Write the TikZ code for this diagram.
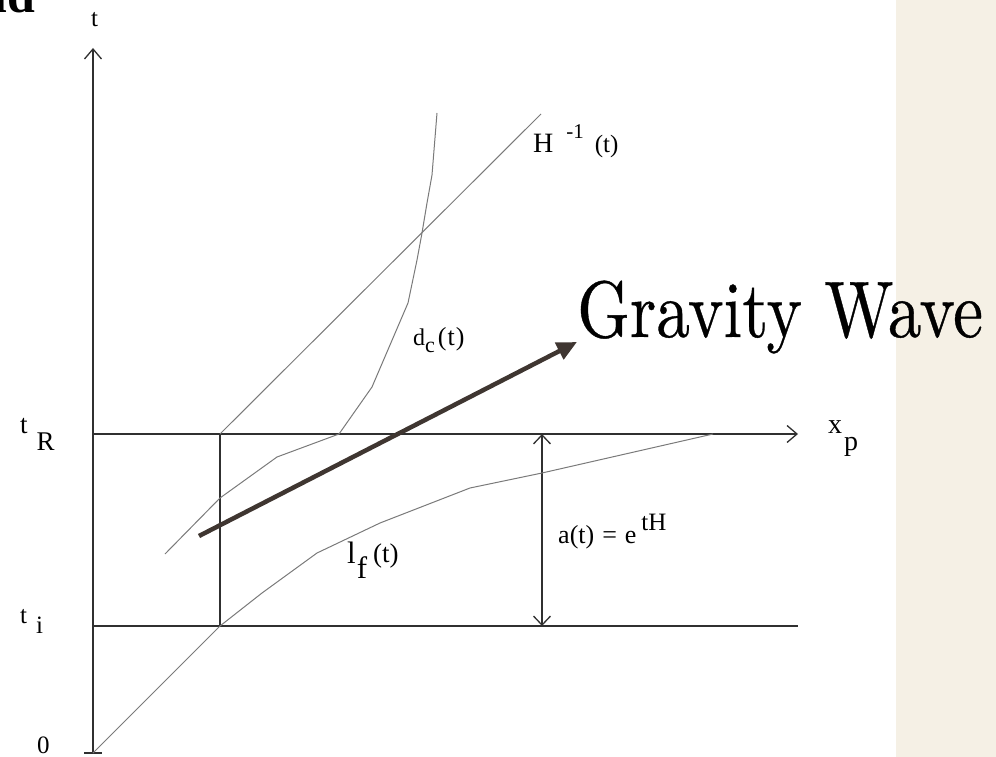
\documentclass[tikz,border=0pt]{standalone}
\usepackage{fontspec}
\usepackage{graphicx}
\usetikzlibrary{arrows.meta}
\newfontfamily\plotfont{Liberation Serif}
\newfontfamily\waveface{lmroman10-regular.otf}[FakeBold=0.5]
\newcommand{\lblsize}[1]{\fontsize{#1pt}{#1pt}\selectfont}
\definecolor{panelbeige}{HTML}{F5F0E5}
\definecolor{wavebrown}{HTML}{3F3631}
\definecolor{axisgray}{HTML}{303030}
\definecolor{curvegray}{HTML}{7A7A7A}
\begin{document}
\begin{tikzpicture}[x=1pt, y=-1pt,
		axis/.style={line width=1.3pt, color=axisgray},
		curve/.style={line width=1pt, color=curvegray},
		barb/.style={-{Straight Barb[length=10pt, width=17pt]}},
		dblbarb/.style={{Straight Barb[length=9pt, width=17pt]}-{Straight Barb[length=9pt, width=17pt]}},
		lbl/.style={font=\plotfont, inner sep=0pt, anchor=base west}]
		\useasboundingbox (0,0) rectangle (996,757);
		\fill [panelbeige] (896,0) rectangle (996,757);
		\node [font=\plotfont\bfseries\lblsize{50}, inner sep=0pt, anchor=base east] (heading) at (35,13) {ld};
		
		\coordinate (origin) at (93,753);
		\coordinate (ttop) at (93,48);
		\coordinate (tR) at (93,434);
		\coordinate (ti) at (93,626);
		\coordinate (xend) at (798,434);
		\coordinate (tiend) at (798,626);
		\coordinate (cornerR) at (220,434);
		\coordinate (corneri) at (220,626);
		\coordinate (atop) at (542,434);
		\coordinate (abot) at (542,626);
		\coordinate (hend) at (541,114);
		
		\draw [axis, barb] (origin) -- (ttop);
		\draw [axis] (84,753) -- (102,753);
		\draw [axis, barb] (tR) -- (xend);
		\draw [axis] (ti) -- (tiend);
		\draw [axis] (cornerR) -- (corneri);
		\draw [axis, dblbarb] (abot) -- (atop);
		
		\draw [curve] (cornerR) -- (hend);
		\draw [curve] (origin) -- (corneri) -- (262,593) -- (317,553) -- (380,523) -- (470,488) -- (542,473) -- (713,434);
		\draw [curve] (165,554) -- (220,498) -- (277,457) -- (339,434) -- (372,387) -- (408,303) -- (417,260) -- (422,233) -- (427,203) -- (432,175) -- (437,113);
		
		\node [lbl, font=\plotfont\lblsize{25}] (tlabel) at (91,27) {t};
		\node [lbl, font=\plotfont\lblsize{27}] (tRlabel) at (20,433) {t\hspace{9pt}\raisebox{-17pt}{R}};
		\node [lbl, font=\plotfont\lblsize{25}] (tilabel) at (20,623) {t\hspace{9pt}\raisebox{-10pt}{i}};
		\node [lbl, font=\plotfont\lblsize{25}] (zerolabel) at (37,753) {0};
		\node [lbl, font=\plotfont\lblsize{28}] (xplabel) at (828,433) {x\hspace{2pt}\raisebox{-17pt}{p}};
		\node [lbl] (hlabel) at (533,153) {{\lblsize{28}H}\hspace{13pt}\raisebox{14pt}{\lblsize{21}-1}\hspace{11pt}{\lblsize{25}(t)}};
		\node [lbl] (dclabel) at (413,345) {{\lblsize{24}d}\raisebox{-7pt}{\lblsize{22}c}\hspace{3pt}{\lblsize{26}(\hspace{1pt}t\hspace{1pt})}};
		\node [lbl] (lflabel) at (347,563) {{\lblsize{31}l}\hspace{1pt}\raisebox{-15pt}{\lblsize{31}f}\hspace{6pt}\raisebox{1pt}{\lblsize{27}(t)}};
		\node [lbl] (alabel) at (558,543) {{\lblsize{26}a(t)\hspace{8pt}=\hspace{8pt}e}\hspace{5pt}\raisebox{13pt}{\lblsize{25}tH}};
		
		\node [inner sep=0pt, anchor=base west] (gwlabel) at (577,337) {\waveface\lblsize{80}\scalebox{0.84}[1]{Gravity Wave}};
		\coordinate (gwtail) at (199,536);
		\coordinate (gwtip) at (577,342);
		\draw [line width=4.5pt, color=wavebrown, -{Triangle[length=20pt, width=18pt]}] (gwtail) -- (gwtip);
	\end{tikzpicture}
\end{document}
